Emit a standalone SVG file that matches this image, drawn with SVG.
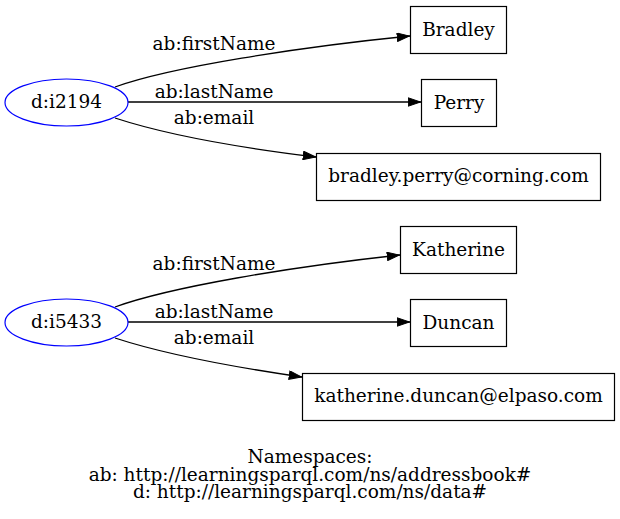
<svg xmlns="http://www.w3.org/2000/svg" width="620" height="519" viewBox="0 0 620 519">
<defs>
<style>
text{font-family:"DejaVu Serif","Liberation Serif",serif;font-size:18.5px;fill:#000;text-anchor:middle}
.n rect{fill:#fff;stroke:#000;stroke-width:1.2}
.n ellipse{fill:#fff;stroke:#0000ff;stroke-width:1.2}
.e path{fill:none;stroke:#000;stroke-width:1.3}
</style>
<marker id="ah" viewBox="0 0 13.3 9.4" refX="13.3" refY="4.7" markerWidth="13.3" markerHeight="9.4" markerUnits="userSpaceOnUse" orient="auto">
<path d="M0.5,0.5 L12.8,4.7 L0.5,8.9 Z" fill="#000" stroke="#000" stroke-width="1"/>
</marker>
</defs>
<rect width="620" height="519" fill="#fff"/>
<g id="connectors" class="e">
<path d="M115,87 C170,67 300,47 410,36" marker-end="url(#ah)"/>
<path d="M128,102 L421,102" marker-end="url(#ah)"/>
<path d="M115,118 C170,136 250,149 316,157" marker-end="url(#ah)"/>
<path d="M115,307 C170,287 290,267 400,255" marker-end="url(#ah)"/>
<path d="M128,322 L410,322" marker-end="url(#ah)"/>
<path d="M115,338 C170,356 240,368 302,377" marker-end="url(#ah)"/>
<text x="214" y="50">ab:firstName</text>
<text x="214" y="97.5">ab:lastName</text>
<text x="214" y="123.5">ab:email</text>
<text x="214" y="270">ab:firstName</text>
<text x="214" y="317.5">ab:lastName</text>
<text x="214" y="343.5">ab:email</text>
</g>
<g id="d_i2194" class="n"><ellipse cx="66.5" cy="102.5" rx="61.5" ry="23.5"/><text x="66.5" y="108">d:i2194</text></g>
<g id="bradley" class="n"><rect x="410.5" y="6.5" width="96" height="47"/><text x="458.5" y="35.5">Bradley</text></g>
<g id="perry" class="n"><rect x="421.5" y="79.5" width="75" height="47"/><text x="459" y="108.5">Perry</text></g>
<g id="email1" class="n"><rect x="316.5" y="153.5" width="284" height="47"/><text x="458.5" y="182">bradley.perry@corning.com</text></g>
<g id="d_i5433" class="n"><ellipse cx="66.5" cy="322.5" rx="61.5" ry="23.5"/><text x="66.5" y="328">d:i5433</text></g>
<g id="katherine" class="n"><rect x="400.5" y="226.5" width="116" height="47"/><text x="458.5" y="255.5">Katherine</text></g>
<g id="duncan" class="n"><rect x="410.5" y="299.5" width="96" height="47"/><text x="458.5" y="328.5">Duncan</text></g>
<g id="email2" class="n"><rect x="302.5" y="373.5" width="312" height="47"/><text x="458.5" y="402">katherine.duncan@elpaso.com</text></g>
<g id="namespaces">
<text x="310" y="463">Namespaces:</text>
<text x="310" y="480.5">ab: http://learningsparql.com/ns/addressbook#</text>
<text x="310" y="498">d: http://learningsparql.com/ns/data#</text>
</g>
</svg>
